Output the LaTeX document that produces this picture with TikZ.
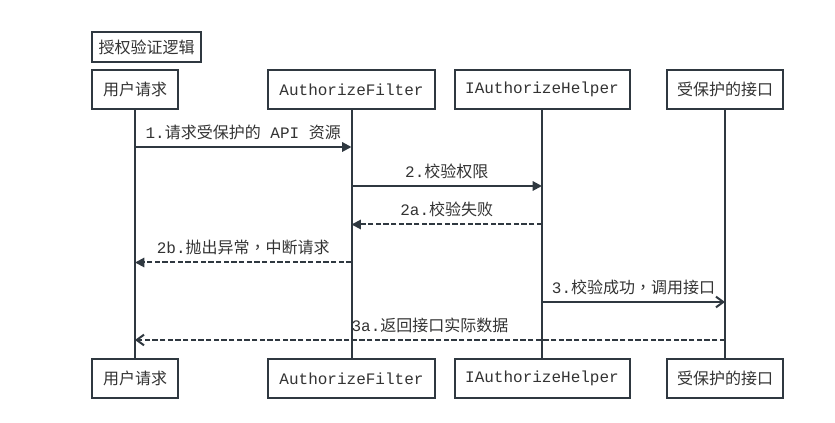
\documentclass[tikz,border=0pt]{standalone}
\usepackage{fontspec}
\setmainfont{Liberation Mono}
\newfontfamily\cjk{Noto Sans CJK SC}
\newfontfamily\cjktc{Noto Sans CJK TC}
\newcommand\zh[1]{{\cjk #1}}
\newcommand\zhcomma{{\cjktc ，}}
\usetikzlibrary{arrows.meta}
\definecolor{ln}{HTML}{2F3840}
\definecolor{tx}{HTML}{333333}
\begin{document}
\begin{tikzpicture}[x=0.75pt,y=-0.75pt,
  font=\fontsize{12pt}{14pt}\selectfont,
  box/.style={draw=ln, line width=1.5pt, fill=white, inner sep=0pt,
    minimum height=29.25pt, text=tx},
  life/.style={draw=ln, line width=1.5pt},
  msg/.style={draw=ln, line width=1.5pt},
  ret/.style={draw=ln, line width=1.5pt, dash pattern=on 4pt off 1.75pt},
  fil/.style={-{Triangle[length=7pt,width=7pt]}},
  opn/.style={-{Straight Barb[length=5.5pt,width=8pt]}},
  lbl/.style={inner sep=0pt, text=tx, yshift=11.25pt}]
\useasboundingbox (0,0) rectangle (835,423);

% title
\node[box, minimum width=81.75pt, minimum height=22.5pt] (title) at (146.5,47) {\zh{授权验证逻辑}};

% top participants
\node[box, minimum width=64.5pt] (u1) at (135,89.5) {\zh{用户请求}};
\node[box, minimum width=125.25pt] (f1) at (351.5,89.5) {AuthorizeFilter};
\node[box, minimum width=131.25pt] (h1) at (542,89.5) {IAuthorizeHelper};
\node[box, minimum width=87pt] (p1) at (725,89.5) {\zh{受保护的接口}};

% bottom participants
\node[box, minimum width=64.5pt] (u2) at (135,378.5) {\zh{用户请求}};
\node[box, minimum width=125.25pt] (f2) at (351.5,378.5) {AuthorizeFilter};
\node[box, minimum width=131.25pt] (h2) at (542,378.5) {IAuthorizeHelper};
\node[box, minimum width=87pt] (p2) at (725,378.5) {\zh{受保护的接口}};

% lifelines
\draw[life] (u1.south) -- (u2.north);
\draw[life] (f1.south) -- (f2.north);
\draw[life] (h1.south) -- (h2.north);
\draw[life] (p1.south) -- (p2.north);

% messages
\draw[msg, fil] (u1 |- 0,147) -- node[lbl] (l1) {1.\zh{请求受保护的} API \zh{资源}} (f1 |- 0,147);
\draw[msg, fil] (f1 |- 0,186) -- node[lbl] (l2) {2.\zh{校验权限}} (h1 |- 0,186);
\draw[ret, fil] (h1 |- 0,224.5) -- node[lbl] (l2a) {2a.\zh{校验失败}} (f1 |- 0,224.5);
\draw[ret, fil] (f1 |- 0,262.5) -- node[lbl] (l2b) {2b.\zh{抛出异常}\zhcomma\zh{中断请求}} (u1 |- 0,262.5);
\draw[msg, opn] (h1 |- 0,302) -- node[lbl] (l3) {3.\zh{校验成功}\zhcomma\zh{调用接口}} (p1 |- 0,302);
\draw[ret, opn] (p1 |- 0,340) -- node[lbl] (l3a) {3a.\zh{返回接口实际数据}} (u1 |- 0,340);
\end{tikzpicture}
\end{document}
